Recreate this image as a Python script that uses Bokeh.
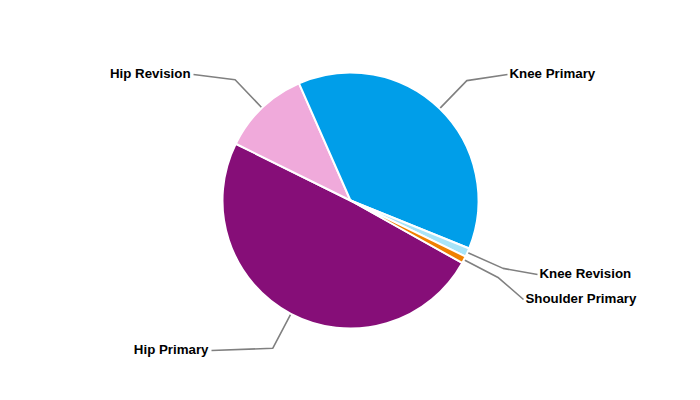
import math
from bokeh.plotting import figure
from bokeh.models import ColumnDataSource, Range1d
from bokeh.core.properties import value
from bokeh.embed import file_html
from bokeh.resources import INLINE

# ---- data ----
categories = ["Hip Primary", "Hip Revision", "Knee Primary", "Knee Revision", "Shoulder Primary"]
shares = [49.2, 11.1, 37.7, 1.1, 0.9]
colors = ["#860E78", "#F0AADB", "#009EE9", "#A8E4F8", "#F08000"]

# ---- layout ----
W, H = 684, 384
pcx, pcy, R = 350, 200, 128   # pie centre in page px
start_cw_deg = 119.2          # first slice starts here, clockwise from 12 o'clock
elbow_r = 167
# label anchor (page px) : x, y, align
label_pos = {
    "Hip Primary": (208, 349, "right"),
    "Hip Revision": (190, 73, "right"),
    "Knee Primary": (509, 73, "left"),
    "Knee Revision": (539, 273, "left"),
    "Shoulder Primary": (525, 298, "left"),
}

def px(x):
    return x

def py(y):
    return H - y

cx, cy = px(pcx), py(pcy)

total = sum(shares)
starts, ends, mids = [], [], []
acc = start_cw_deg
for v in shares:
    a0 = acc
    a1 = acc + 360.0 * v / total
    starts.append(math.radians(90 - a0))
    ends.append(math.radians(90 - a1))
    mids.append(math.radians(90 - (a0 + a1) / 2))
    acc = a1

src = ColumnDataSource(dict(cat=categories, start=starts, end=ends, color=colors))

p = figure(width=W, height=H, output_backend="svg", toolbar_location=None,
           x_range=Range1d(0, W), y_range=Range1d(0, H), min_border=0)
p.axis.visible = False
p.grid.visible = False
p.outline_line_color = None
p.background_fill_color = "white"

# leader lines
for cat, m in zip(categories, mids):
    lx, ly, align = label_pos[cat]
    x0, y0 = cx + R * math.cos(m), cy + R * math.sin(m)
    x1, y1 = cx + elbow_r * math.cos(m), cy + elbow_r * math.sin(m)
    x2 = px(lx - 2) if align == "left" else px(lx + 3)
    y2 = py(ly + 1)
    p.line([x0, x1, x2], [y0, y1, y2], line_color="#808080", line_width=1.6)

p.wedge(x=cx, y=cy, radius=R, start_angle="start", end_angle="end",
        direction="clock", fill_color="color", line_color="white",
        line_width=2, source=src)

for cat in categories:
    lx, ly, align = label_pos[cat]
    p.text(x=[px(lx)], y=[py(ly)], text=[cat], text_align=align,
           text_baseline="middle", text_font=value("Liberation Sans"),
           text_font_size="13.3px", text_font_style="bold", text_color="#000000")

open("out.html", "w").write(file_html(p, INLINE))
